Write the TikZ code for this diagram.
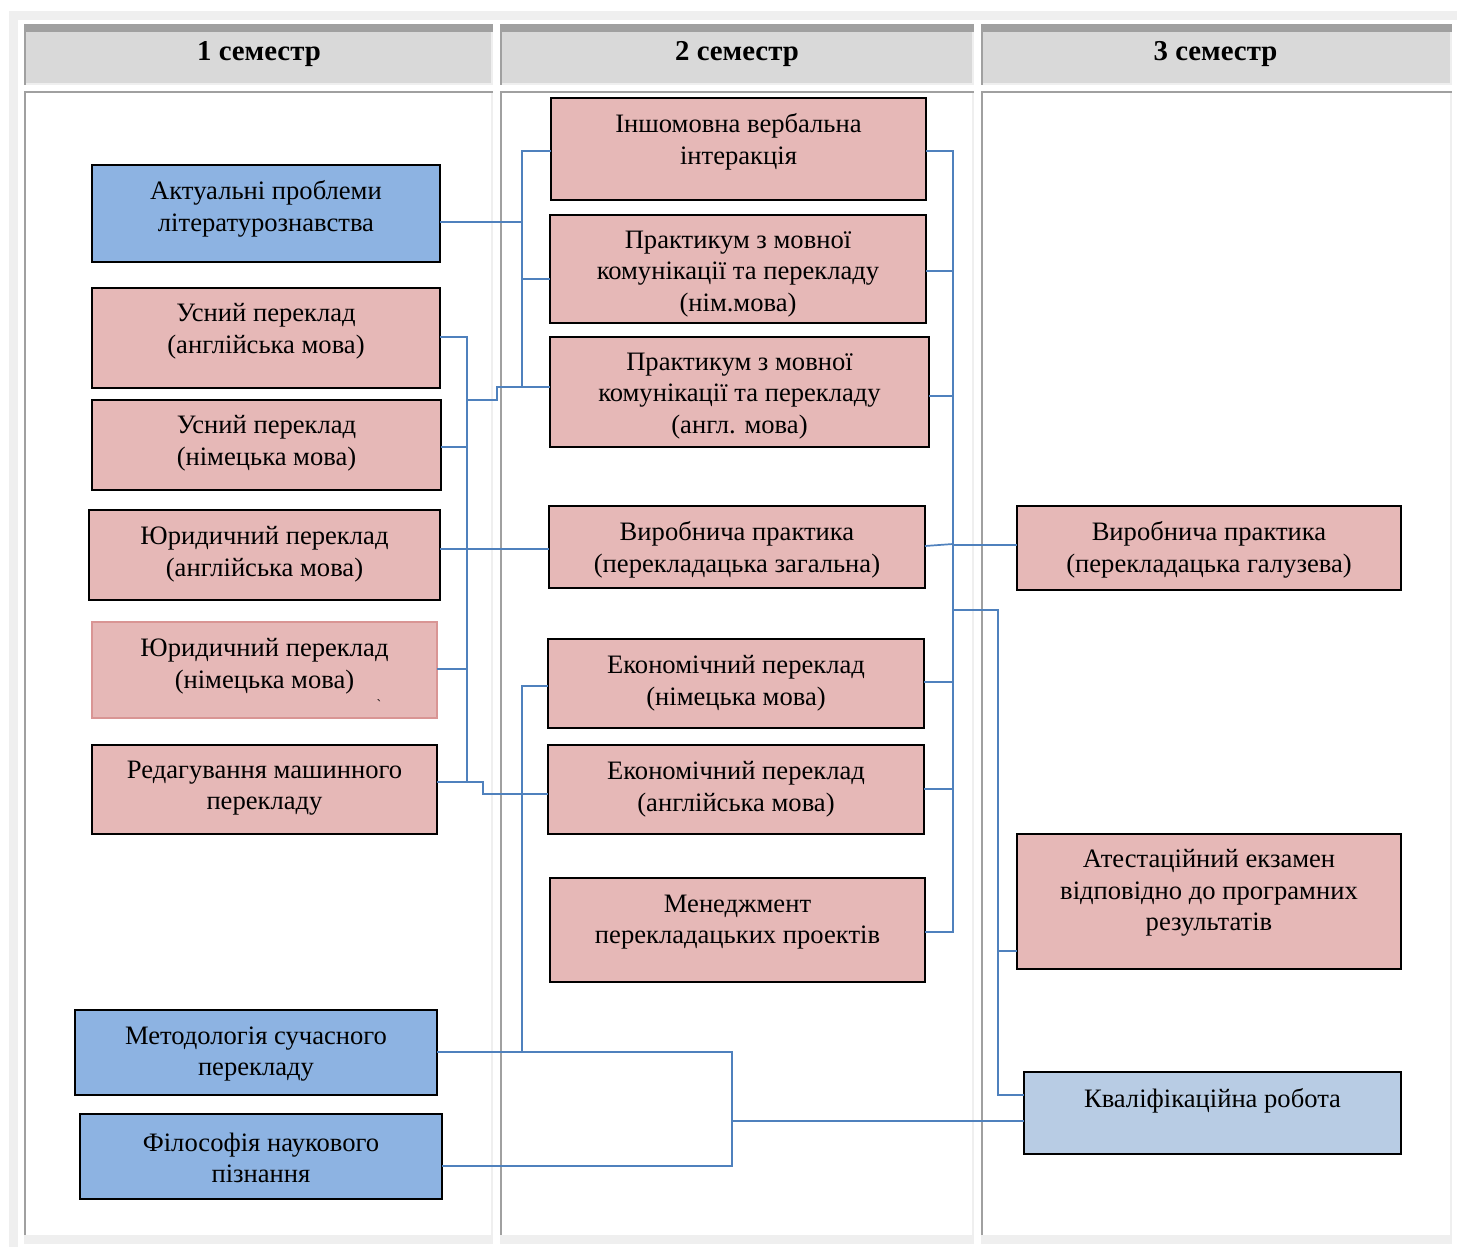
\documentclass[tikz,border=0pt]{standalone}
\usepackage{fontspec}
\setmainfont{Liberation Serif}
\definecolor{pinkf}{HTML}{E6B8B7}
\definecolor{bluef}{HTML}{8DB3E2}
\definecolor{lbluef}{HTML}{B8CCE4}
\definecolor{connc}{HTML}{4F81BD}
\definecolor{pinkb}{HTML}{D99594}
\definecolor{hdrc}{HTML}{D9D9D9}
\definecolor{dgr}{HTML}{A0A0A0}
\definecolor{lgr}{HTML}{EFEFEF}
\tikzset{
  boxbase/.style={draw=black, line width=2pt, inner sep=0pt, outer sep=0pt, rectangle},
  pinkbox/.style={boxbase, fill=pinkf},
  bluebox/.style={boxbase, fill=bluef},
  lbluebox/.style={boxbase, fill=lbluef},
  pinkpale/.style={boxbase, fill=pinkf, draw=pinkb},
  txt/.style={font=\fontsize{26.6}{31.5}\selectfont, align=center, inner sep=0pt},
  hdrtxt/.style={font=\fontsize{28.8}{30}\selectfont\bfseries, inner sep=0pt, anchor=base},
  cn/.style={draw=connc, line width=1.7pt},
}
\newcommand\bx[8]{%
  \node[#6, minimum width={(#4-#2)*1pt}, minimum height={(#5-#3)*1pt}] (#1) at ({(#2+#4)/2},{(#3+#5)/2}) {};
  \node[txt] (#1-t) at ({(#2+#4)/2},#7) {#8};}
\newcommand\colcell[3]{% x0 x1 label
  \fill[lgr] (#1,24) rectangle (#2,85);
  \fill[dgr] (#1,24) rectangle (#2,32);
  \fill[dgr] (#1,24) rectangle ({#1+2},85);
  \fill[hdrc] ({#1+2},32) rectangle ({#2-2},83);
  \fill[lgr] (#1,91) rectangle (#2,1244);
  \fill[dgr] (#1,91) rectangle (#2,93);
  \fill[dgr] (#1,91) rectangle ({#1+2},1235);
  \fill[white] ({#1+2},93) rectangle ({#2-2},1235);}
\begin{document}
\begin{tikzpicture}[x=1pt,y=-1pt]
\useasboundingbox (0,0) rectangle (1457,1247);
\fill[white] (0,0) rectangle (1457,1247);
% outer frame
\fill[lgr] (9,11) rectangle (1457,20);
\fill[lgr] (9,11) rectangle (18,1247);
% columns
\colcell{24}{493}{}
\colcell{500}{974}{}
\colcell{981}{1452}{}
\node[hdrtxt] (h1) at (259,61) {1 семестр};
\node[hdrtxt] (h2) at (737,61) {2 семестр};
\node[hdrtxt] (h3) at (1215.5,61) {3 семестр};
% column 1
\bx{akt}{92}{165}{440}{262}{bluebox}{209}{Актуальні проблеми\\літературознавства}
\bx{usa}{92}{288}{440}{388}{pinkbox}{331}{Усний переклад\\(англійська мова)}
\bx{usn}{92}{400}{441}{490}{pinkbox}{443}{Усний переклад\\(німецька мова)}
\bx{yua}{89}{510}{440}{600}{pinkbox}{554}{Юридичний переклад\\(англійська мова)}
\bx{yun}{92}{622}{437}{718}{pinkpale}{666}{Юридичний переклад\\(німецька мова)}
\node[inner sep=0pt, font=\fontsize{14}{14}\selectfont] (tick) at (379,705) {\textasciigrave};
\bx{red}{92}{745}{437}{834}{pinkbox}{788}{Редагування машинного\\перекладу}
\bx{met}{75}{1010}{437}{1095}{bluebox}{1054}{Методологія сучасного\\перекладу}
\bx{fil}{80}{1114}{442}{1199}{bluebox}{1158}{Філософія наукового\\пізнання}
% column 2
\bx{insh}{551}{98}{926}{200}{pinkbox}{142}{Іншомовна вербальна\\інтеракція}
\bx{prn}{550}{215}{926}{323}{pinkbox}{274}{Практикум з мовної\\комунікації та перекладу\\(нім.мова)}
\bx{pra}{550}{337}{929}{447}{pinkbox}{396}{Практикум з мовної\\комунікації та перекладу\\(англ. мова)}
\bx{vzag}{549}{506}{925}{588}{pinkbox}{550}{Виробнича практика\\(перекладацька загальна)}
\bx{ekn}{548}{639}{924}{728}{pinkbox}{683}{Економічний переклад\\(німецька мова)}
\bx{eka}{548}{745}{924}{834}{pinkbox}{789}{Економічний переклад\\(англійська мова)}
\bx{men}{550}{878}{925}{982}{pinkbox}{922}{Менеджмент\\перекладацьких проектів}
% column 3
\bx{vgal}{1017}{506}{1401}{590}{pinkbox}{550}{Виробнича практика\\(перекладацька галузева)}
\bx{at}{1017}{834}{1401}{969}{pinkbox}{893}{Атестаційний екзамен\\відповідно до програмних\\результатів}
\bx{kv}{1024}{1072}{1401}{1154}{lbluebox}{1101}{Кваліфікаційна робота}
% connectors left
\draw[cn] (insh.west |- 0,151) -- (522,151) -- (522,387) -- (pra.west |- 0,387);
\draw[cn] (akt.east |- 0,222) -- (522,222);
\draw[cn] (522,279) -- (prn.west |- 0,279);
\draw[cn] (usa.east |- 0,337) -- (467,337) -- (467,782) -- (red.east |- 0,782);
\draw[cn] (usn.east |- 0,447) -- (467,447);
\draw[cn] (yua.east |- 0,549) -- (vzag.west |- 0,549);
\draw[cn] (yun.east |- 0,669) -- (467,669);
\draw[cn] (467,400) -- (497,400) -- (497,387) -- (522,387);
\draw[cn] (467,782) -- (483,782) -- (483,794) -- (eka.west |- 0,794);
\draw[cn] (ekn.west |- 0,686) -- (522,686) -- (522,1052);
\draw[cn] (met.east |- 0,1052) -- (732,1052) -- (732,1166) -- (fil.east |- 0,1166);
\draw[cn] (732,1121) -- (kv.west |- 0,1121);
% connectors right
\draw[cn] (insh.east |- 0,151) -- (953,151) -- (953,932) -- (men.east |- 0,932);
\draw[cn] (prn.east |- 0,271) -- (953,271);
\draw[cn] (pra.east |- 0,396) -- (953,396);
\draw[cn] (vzag.east |- 0,546) -- (953,544);
\draw[cn, line width=2.6pt] (953,545) -- (vgal.west |- 0,545);
\draw[cn] (ekn.east |- 0,682) -- (953,682);
\draw[cn] (eka.east |- 0,789) -- (953,789);
\draw[cn] (953,610) -- (998,610) -- (998,1095) -- (kv.west |- 0,1095);
\draw[cn] (998,951) -- (at.west |- 0,951);
\end{tikzpicture}
\end{document}
